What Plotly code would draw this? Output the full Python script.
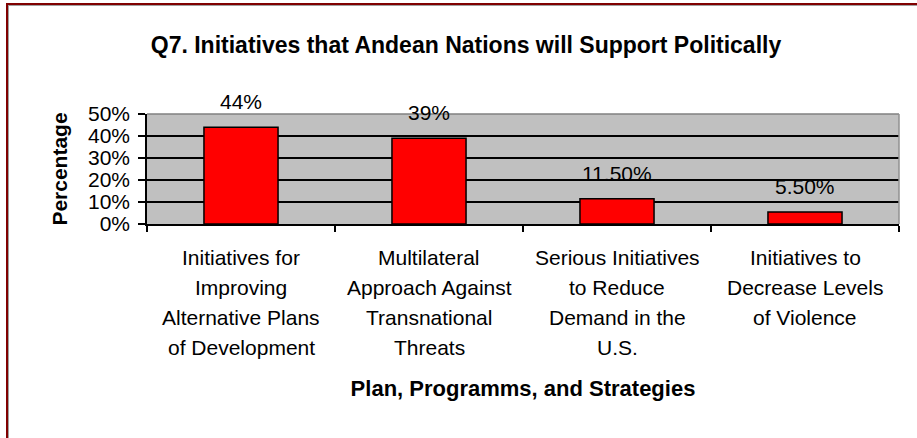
import plotly.graph_objects as go

# ---- data ----
categories = [
    "Initiatives for Improving Alternative Plans of Development",
    "Multilateral Approach Against Transnational Threats",
    "Serious Initiatives to Reduce Demand in the U.S.",
    "Initiatives to Decrease Levels of Violence",
]
category_lines = [
    ["Initiatives for", "Improving", "Alternative Plans", "of Development"],
    ["Multilateral", "Approach Against", "Transnational", "Threats"],
    ["Serious Initiatives", "to Reduce", "Demand in the", "U.S."],
    ["Initiatives to", "Decrease Levels", "of Violence"],
]
values = [44, 39, 11.5, 5.5]
value_labels = ["44%", "39%", "11.50%", "5.50%"]
y_tick_values = [0, 10, 20, 30, 40, 50]
y_tick_labels = ["0%", "10%", "20%", "30%", "40%", "50%"]

title_text = "Q7. Initiatives that Andean Nations will Support Politically"
x_title = "Plan, Programms, and Strategies"
y_title = "Percentage"

# ---- layout geometry (pixels) ----
W, H = 917, 438
L, R, T, B = 147, 18, 114, 214
PW, PH = W - L - R, H - T - B
FONT = "Arial, Liberation Sans, sans-serif"


def px_x(p):
    return (p - L) / PW


def px_y(p):
    return (H - B - p) / PH


fig = go.Figure()
fig.add_trace(
    go.Bar(
        x=categories,
        y=values,
        marker=dict(color="#FF0000", line=dict(color="black", width=1.5)),
        hoverinfo="skip",
    )
)

annotations = []
for cat, val, lab in zip(categories, values, value_labels):
    annotations.append(
        dict(x=cat, y=val, xref="x", yref="y", text=lab, showarrow=False,
             yanchor="bottom", yshift=12, font=dict(family=FONT, size=21, color="black"))
    )
for cat, lines in zip(categories, category_lines):
    for i, line in enumerate(lines):
        annotations.append(
            dict(x=cat, y=0, xref="x", yref="paper", text=line, showarrow=False,
                 yanchor="middle", yshift=-(33 + 30 * i),
                 font=dict(family=FONT, size=21, color="black"))
        )

shapes = [
    # plot frame top / right (gray)
    dict(type="line", xref="paper", yref="paper", x0=0, x1=1, y0=1, y1=1,
         line=dict(color="#808080", width=1.5), layer="above"),
    dict(type="line", xref="paper", yref="paper", x0=1, x1=1, y0=0, y1=1,
         line=dict(color="#909090", width=1.5), layer="above"),
    # outer chart border (dark red, top and left) with gray inner line
    dict(type="line", xref="paper", yref="paper", x0=px_x(6), x1=px_x(W + 5),
         y0=px_y(4), y1=px_y(4), line=dict(color="#800000", width=2), layer="above"),
    dict(type="line", xref="paper", yref="paper", x0=px_x(7), x1=px_x(7),
         y0=px_y(3), y1=px_y(H + 5), line=dict(color="#800000", width=2), layer="above"),
    dict(type="line", xref="paper", yref="paper", x0=px_x(8), x1=px_x(W + 5),
         y0=px_y(5.5), y1=px_y(5.5), line=dict(color="#A0A0A0", width=1), layer="above"),
    dict(type="line", xref="paper", yref="paper", x0=px_x(8.5), x1=px_x(8.5),
         y0=px_y(5), y1=px_y(H + 5), line=dict(color="#A0A0A0", width=1), layer="above"),
]

fig.update_layout(
    width=W,
    height=H,
    autosize=False,
    margin=dict(l=L, r=R, t=T, b=B, pad=0),
    paper_bgcolor="white",
    plot_bgcolor="#C0C0C0",
    showlegend=False,
    bargap=0.606,
    font=dict(family=FONT, color="black"),
    title=dict(
        text=title_text,
        xref="container", yref="container",
        x=466 / W, xanchor="center",
        y=1 - 45 / H, yanchor="middle",
        font=dict(family=FONT, size=23, color="black", weight="bold"),
    ),
    xaxis=dict(
        type="category",
        range=[-0.5, 3.5],
        showticklabels=False,
        ticks="outside",
        tickson="boundaries",
        ticklen=6,
        tickwidth=1.5,
        tickcolor="black",
        showline=True,
        linecolor="black",
        linewidth=1.5,
        showgrid=False,
        fixedrange=True,
        title=dict(text=x_title, standoff=156,
                   font=dict(family=FONT, size=22, color="black", weight="bold")),
    ),
    yaxis=dict(
        range=[0, 50],
        tickvals=y_tick_values,
        ticktext=y_tick_labels,
        ticks="outside",
        ticklen=7,
        tickwidth=1.5,
        tickcolor="black",
        ticklabelstandoff=4,
        tickfont=dict(family=FONT, size=21, color="black"),
        showline=True,
        linecolor="black",
        linewidth=1.5,
        showgrid=True,
        gridcolor="black",
        gridwidth=1.5,
        zeroline=False,
        fixedrange=True,
        title=dict(text=y_title, standoff=15,
                   font=dict(family=FONT, size=21, color="black", weight="bold")),
    ),
    annotations=annotations,
    shapes=shapes,
)

fig.write_html(
    "out.html",
    config={"displayModeBar": False},
    post_script="document.body.style.margin='0px';document.body.style.overflow='hidden';",
)
